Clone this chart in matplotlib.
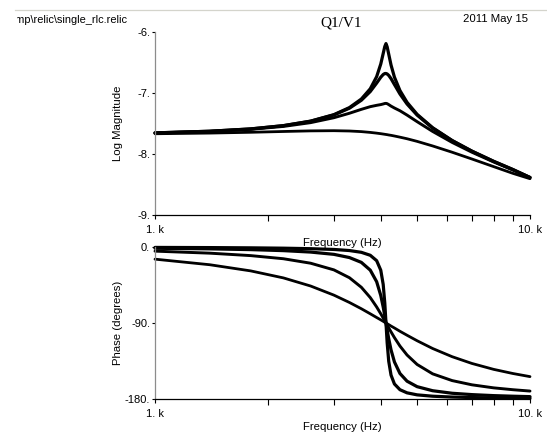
"""Q1/V1 response of a single RLC circuit: log magnitude and phase vs frequency."""

import matplotlib
matplotlib.use('Agg')
import matplotlib.pyplot as plt
from matplotlib.transforms import Bbox
from matplotlib.ticker import FixedLocator, FixedFormatter, NullFormatter

# frequency samples (Hz), denser round the resonance near 4.13 kHz
freq_hz = [1000, 1400, 1800, 2200, 2600, 3000, 3300, 3550, 3750, 3900, 4000,
           4060, 4100, 4130, 4160, 4200, 4260, 4350, 4500, 4700, 5000, 5500,
           6200, 7000, 8000, 9000, 10000]

# log magnitude, one list per curve (lowest to highest peak)
mag_a = [-7.668, -7.657, -7.644, -7.631, -7.621, -7.618, -7.623, -7.633, -7.646,
         -7.658, -7.667, -7.673, -7.677, -7.680, -7.683, -7.688, -7.694, -7.705,
         -7.724, -7.750, -7.793, -7.868, -7.971, -8.082, -8.207, -8.317, -8.405]
mag_b = [-7.655, -7.630, -7.595, -7.548, -7.486, -7.405, -7.332, -7.268, -7.224,
         -7.202, -7.190, -7.180, -7.172, -7.170, -7.175, -7.190, -7.215, -7.246,
         -7.291, -7.362, -7.470, -7.630, -7.810, -7.971, -8.131, -8.262, -8.385]
mag_c = [-7.654, -7.627, -7.589, -7.536, -7.463, -7.359, -7.249, -7.119, -6.976,
         -6.837, -6.741, -6.697, -6.681, -6.680, -6.688, -6.711, -6.764, -6.861,
         -7.016, -7.180, -7.362, -7.575, -7.781, -7.954, -8.121, -8.255, -8.385]
mag_d = [-7.654, -7.627, -7.589, -7.535, -7.461, -7.355, -7.239, -7.099, -6.931,
         -6.732, -6.524, -6.352, -6.238, -6.190, -6.243, -6.363, -6.541, -6.740,
         -6.960, -7.153, -7.350, -7.569, -7.779, -7.953, -8.120, -8.254, -8.385]

# phase (degrees), same curves
ph_a = [-14.4, -21.0, -28.3, -36.6, -46.2, -57.0, -65.7, -73.1, -79.1, -83.5,
        -86.3, -88.0, -89.2, -90.0, -90.8, -91.9, -93.6, -95.9, -99.8, -104.5,
        -111.0, -120.2, -129.9, -137.9, -144.9, -149.8, -153.5]
ph_b = [-4.9, -7.3, -10.2, -13.9, -19.2, -27.1, -36.4, -47.7, -59.9, -71.0,
        -79.1, -84.1, -87.5, -90.0, -92.5, -95.8, -100.5, -107.3, -117.3, -127.9,
        -139.1, -150.2, -158.2, -163.2, -166.8, -169.0, -170.6]
ph_c = [-1.5, -2.2, -3.1, -4.3, -6.0, -8.7, -12.5, -18.2, -27.4, -41.1,
        -57.4, -71.1, -81.7, -90.0, -98.2, -108.6, -121.8, -136.1, -149.8, -158.9,
        -165.4, -170.2, -173.2, -174.8, -176.0, -176.7, -177.2]
ph_d = [-0.5, -0.7, -1.0, -1.4, -2.0, -2.9, -4.2, -6.3, -9.8, -16.2,
        -27.5, -44.3, -66.4, -90.0, -113.5, -135.3, -151.7, -162.2, -169.0, -172.7,
        -175.1, -176.7, -177.7, -178.3, -178.7, -178.9, -179.1]

mag_ticks = [-9, -8, -7, -6]
mag_labels = ['-9.', '-8.', '-7.', '-6.']
ph_ticks = [-180, -90, 0]
ph_labels = ['-180.', '-90.', '0.']
freq_ticks = [1000, 10000]
freq_labels = ['1. k', '10. k']
freq_minor = [2000, 3000, 4000, 5000, 6000, 7000, 8000, 9000]

plt.rcParams['font.family'] = ['Liberation Sans', 'DejaVu Sans']
FS = 8.2
TFS = 8.0

W, H = 547, 434
fig = plt.figure(figsize=(W / 100, H / 100), dpi=100)

# header: thin rule and three texts, path text cut at the window edge
fig.add_artist(plt.Line2D([15 / W, 1], [1 - 10 / H, 1 - 10 / H],
                          color='#d4d4cc', lw=0.9))
path_txt = fig.text(128 / W, 1 - 20 / H, 'tmp\\relic\\single_rlc.relic',
                    ha='right', va='center', fontsize=7.9)
path_txt.set_clip_box(Bbox.from_extents(17, 0, W, H))
path_txt.set_clip_on(True)
fig.text(341 / W, 1 - 23 / H, 'Q1/V1', ha='center', va='center', fontsize=11,
         family='Liberation Serif')
fig.text(528 / W, 1 - 19.5 / H, '2011 May 15', ha='right', va='center', fontsize=FS)

ax_mag = fig.add_axes([155 / W, 1 - 215 / H, 375 / W, 183 / H])
ax_ph = fig.add_axes([155 / W, 1 - 399 / H, 375 / W, 152 / H])
ax_ph.set_facecolor('none')

curves = [(mag_a, ph_a, 2.0), (mag_b, ph_b, 2.1), (mag_c, ph_c, 2.3), (mag_d, ph_d, 2.3)]
for m, p, lw in curves:
    ax_mag.plot(freq_hz, m, color='black', lw=lw, solid_joinstyle='round',
                solid_capstyle='round', clip_on=False)
    ax_ph.plot(freq_hz, p, color='black', lw=lw, solid_joinstyle='round',
               solid_capstyle='round', clip_on=False)

for ax, ticks, labels, ylabel, lim in [
        (ax_mag, mag_ticks, mag_labels, 'Log Magnitude', (-9, -6)),
        (ax_ph, ph_ticks, ph_labels, 'Phase (degrees)', (-180, 0))]:
    ax.set_xscale('log')
    ax.set_xlim(1000, 10000)
    ax.set_ylim(*lim)
    ax.xaxis.set_major_locator(FixedLocator(freq_ticks))
    ax.xaxis.set_major_formatter(FixedFormatter(freq_labels))
    ax.xaxis.set_minor_locator(FixedLocator(freq_minor))
    ax.xaxis.set_minor_formatter(NullFormatter())
    ax.yaxis.set_major_locator(FixedLocator(ticks))
    ax.yaxis.set_major_formatter(FixedFormatter(labels))
    ax.yaxis.set_minor_locator(FixedLocator([]))
    for s in ('top', 'right'):
        ax.spines[s].set_visible(False)
    ax.spines['left'].set_color('#8c8c8c')
    ax.spines['left'].set_linewidth(0.9)
    ax.spines['bottom'].set_color('black')
    ax.spines['bottom'].set_linewidth(0.9)
    ax.tick_params(axis='x', which='major', direction='out', length=3, width=0.8,
                   pad=4.5, labelsize=TFS)
    ax.tick_params(axis='x', which='minor', direction='out', length=4, width=0.8)
    ax.tick_params(axis='y', which='major', direction='out', length=2.5, width=0.8,
                   pad=1, labelsize=TFS)
    ax.set_ylabel(ylabel, fontsize=FS)
    ax.yaxis.set_label_coords(-0.085, 0.5)
    ax.set_xlabel('Frequency (Hz)', fontsize=FS, labelpad=1.5)

fig.savefig('out.png', dpi=100)
